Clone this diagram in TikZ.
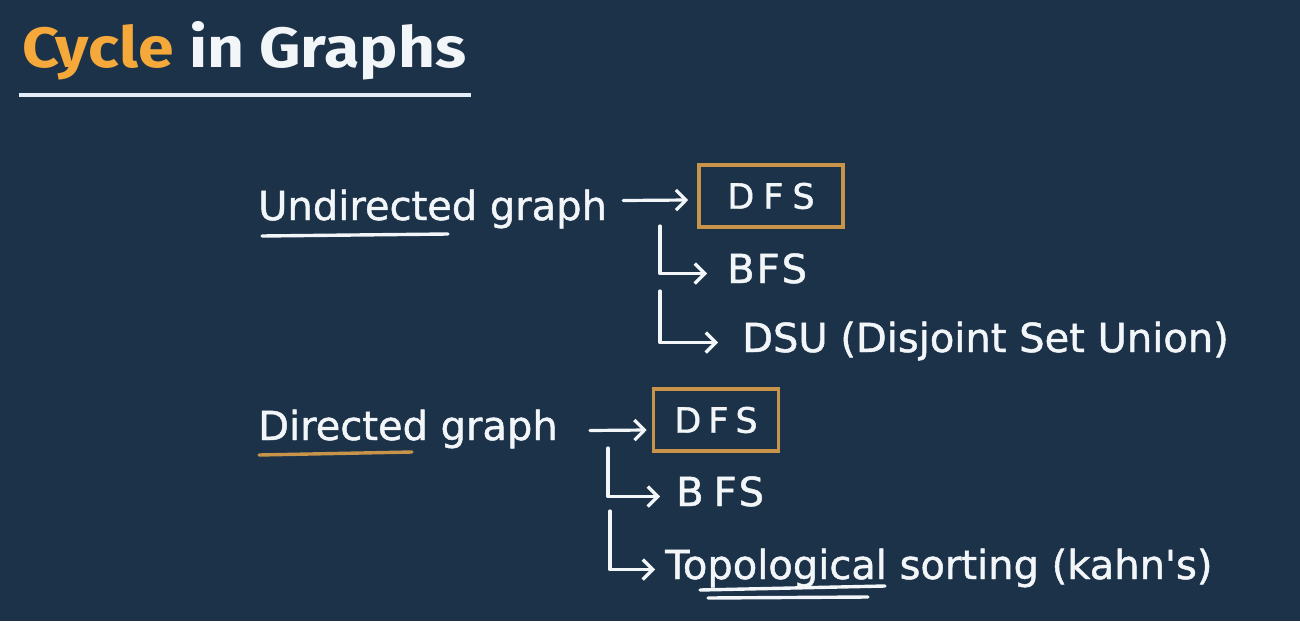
\documentclass[tikz,border=0pt]{standalone}
\usepackage{fontspec}
\usepackage{graphicx}
\usetikzlibrary{arrows.meta,calc}
\newfontfamily\hwfont{DejaVu Sans}[FakeBold=1.2]
\newfontfamily\headfont{Fira Sans}
\definecolor{bg}{HTML}{1C3249}
\definecolor{ink}{HTML}{F3F6F9}
\definecolor{titleorange}{HTML}{F4A93A}
\definecolor{gold}{HTML}{C8944A}
\definecolor{rule}{HTML}{E4EEF8}
\begin{document}
\begin{tikzpicture}[x=1pt,y=-1pt,
  hw/.style={font=\hwfont\fontsize{40}{40}\selectfont, text=ink, inner sep=0pt,
             text height=29pt, text depth=10pt},
  boxed/.style={draw=gold, line width=3.6pt, inner sep=0pt, text=ink,
                font=\hwfont\fontsize{35}{35}\selectfont},
  arr/.style={draw=ink, line width=3.2pt, line cap=round, line join=round,
              -{Straight Barb[length=10pt,width=20pt]}},
  pen/.style={line width=3.4pt, line cap=round}]
  % canvas
  \fill[bg] (0,0) rectangle (1300,621);
  \useasboundingbox (0,0) rectangle (1300,621);

  % heading
  \node[anchor=base west, inner sep=0pt, text=ink] (title) at (22,67)
    {\resizebox{444pt}{46pt}{\headfont\bfseries\textcolor{titleorange}{Cycle} in Graphs}};
  \draw[rule, line width=4.5pt] (19,95) -- (471,95);

  % undirected graph
  \node[hw, anchor=base west] (ug) at (258,220) {Undirected graph};
  \draw[pen, ink] ($(ug.base west)+(4,16)$) -- ($(ug.base west)+(190,14)$);
  \node[boxed, minimum width=144pt, minimum height=62pt] (dfs1) at (771,196)
    {D\kern9pt F\kern9pt S};
  \draw[arr] ($(ug.east)+(16,-10)$) -- ($(dfs1.west)+(-9,4)$);
  \node[hw, anchor=base west] (bfs1) at (727,283) {B\kern2pt F\kern2pt S};
  \node[hw, anchor=base west] (dsu) at (742,352) {DSU (Disjoint Set Union)};
  \coordinate (u1) at (660,226);
  \coordinate (u2) at (660,291);
  \draw[arr, shorten >=20pt] (u1) |- (bfs1);
  \draw[arr, shorten >=24pt] (u2) |- (dsu);

  % directed graph
  \node[hw, anchor=base west] (dg) at (258,440) {Directed graph};
  \draw[pen, gold] ($(dg.base west)+(1,15)$) -- ($(dg.base west)+(154,12)$);
  \node[boxed, minimum width=125pt, minimum height=62pt] (dfs2) at (716,420)
    {D\kern7pt F\kern7pt S};
  \draw[arr] ($(dg.east)+(32,0)$) -- ($(dfs2.west)+(-5,10)$);
  \node[hw, anchor=base west] (bfs2) at (676,506) {B\kern10pt F\kern2pt S};
  \node[hw, anchor=base west] (topo) at (665,579) {Topological sorting (kahn's)};
  \coordinate (d1) at (608,448);
  \coordinate (d2) at (610,511);
  \draw[arr, shorten >=16pt] (d1) |- (bfs2);
  \draw[arr, shorten >=10pt] (d2) |- (topo);
  \draw[pen, ink] ($(topo.base west)+(35,11)$) -- ($(topo.base west)+(220,7)$);
  \draw[pen, ink] ($(topo.base west)+(43,19)$) -- ($(topo.base west)+(203,18)$);
\end{tikzpicture}
\end{document}
